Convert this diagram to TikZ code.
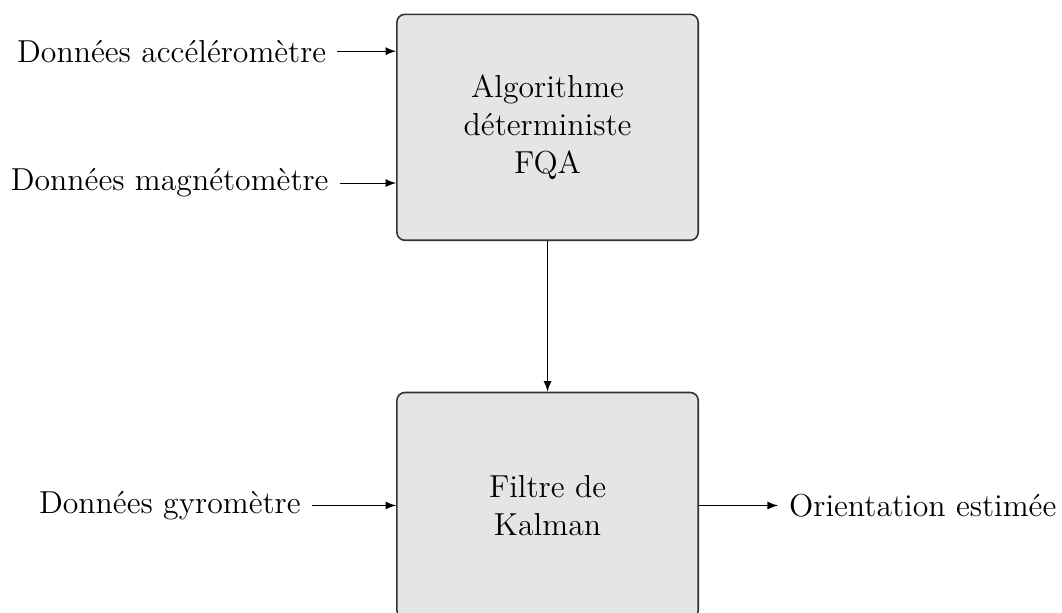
\documentclass[tikz,border=0pt,12pt]{standalone}
\usetikzlibrary{positioning,calc}
\tikzset{every node/.style={align=center}, >= latex,
  bloc/.style={draw=black!80, line width=0.6pt, rounded corners=3pt, fill=black!10,
    minimum width=4cm, minimum height=3cm}}

\begin{document}
\begin{tikzpicture}[node distance=2cm]
            \useasboundingbox (0,0) rectangle (14.1,-8.13);
            \node [bloc] (fqa) at (7.27,-1.69) {Algorithme\\déterministe\\FQA};
            \node [bloc] (kal) [below = of fqa] {Filtre de\\Kalman};
            \coordinate (ina) at ($(fqa.north west)+(0,-0.5)$);
            \coordinate (inm) at ($(fqa.south west)+(0,0.77)$);
            \node (acc) [left = 0.78cm of ina] {Données accéléromètre};
            \node (mag) [left = 0.75cm of inm] {Données magnétomètre};
            \node (gyr) [left = 1.12cm of kal] {Données gyromètre};
            \node (ori) [right = 1.05cm of kal] {Orientation estimée};
            \path[->] (acc) edge (ina)
                (mag) edge (inm)
                (gyr) edge (kal)
                (fqa) edge (kal)
                (kal) edge (ori);
        \end{tikzpicture}
\end{document}
